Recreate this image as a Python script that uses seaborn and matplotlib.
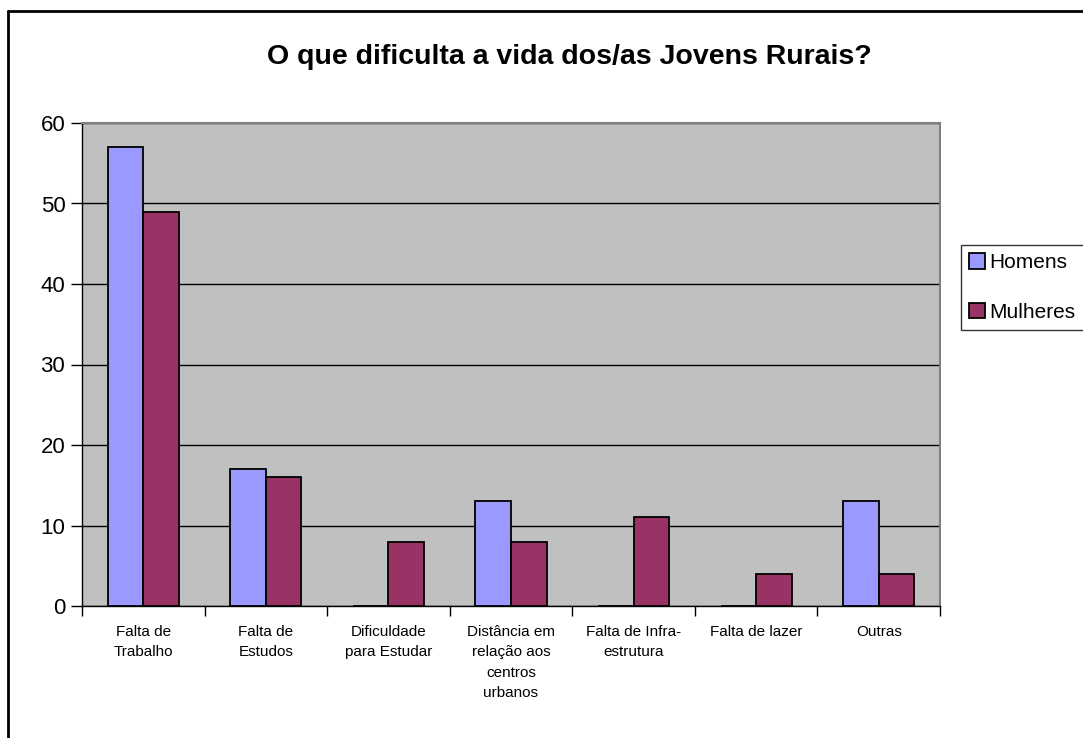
import seaborn as sns
import pandas as pd
import matplotlib.pyplot as plt
from matplotlib.lines import Line2D

# dados
categorias = ['Falta de\nTrabalho', 'Falta de\nEstudos', 'Dificuldade\npara Estudar',
              'Distância em\nrelação aos\ncentros\nurbanos', 'Falta de Infra-\nestrutura',
              'Falta de lazer', 'Outras']
homens = [57, 17, 0, 13, 0, 0, 13]
mulheres = [49, 16, 8, 8, 11, 4, 4]
series = ['Homens', 'Mulheres']
cores = ['#9999FF', '#993366']

df = pd.DataFrame({
    'categoria': categorias * 2,
    'valor': homens + mulheres,
    'grupo': [series[0]] * len(categorias) + [series[1]] * len(categorias),
})

sns.set_style('white')
plt.rcParams['font.family'] = ['Liberation Sans', 'DejaVu Sans']
plt.rcParams['text.color'] = 'black'
plt.rcParams['xtick.color'] = 'black'
plt.rcParams['ytick.color'] = 'black'

fig = plt.figure(figsize=(10.83, 7.38), dpi=100)
ax = fig.add_axes([82 / 1083, 1 - 606 / 738, 858 / 1083, 483 / 738])
ax.set_facecolor('#C0C0C0')

sns.barplot(data=df, x='categoria', y='valor', hue='grupo', palette=cores, saturation=1,
            width=0.58, edgecolor='black', linewidth=1.3, ax=ax, zorder=3)

ax.set_ylim(0, 60)
ax.set_xlim(-0.5, len(categorias) - 0.5)
ax.set_yticks(range(0, 61, 10))
ax.yaxis.grid(True, color='black', linewidth=1, zorder=1)
ax.set_axisbelow(True)
ax.tick_params(axis='y', labelsize=16, length=8, width=1, direction='out', left=True, pad=4)
ax.tick_params(axis='x', which='major', labelsize=11, length=0, pad=14)
ax.set_xticks(range(len(categorias)))
ax.set_xticklabels(categorias, linespacing=1.55)
ax.set_xticks([i - 0.5 for i in range(len(categorias) + 1)], minor=True)
ax.tick_params(axis='x', which='minor', length=7, width=1, bottom=True, direction='out')
ax.set_xlabel('')
ax.set_ylabel('')

for lado in ['top', 'right']:
    ax.spines[lado].set_color('#808080')
    ax.spines[lado].set_linewidth(1.5)
for lado in ['left', 'bottom']:
    ax.spines[lado].set_color('black')
    ax.spines[lado].set_linewidth(1)

fig.text(569 / 1083, 1 - 57 / 738,
         'O que dificulta a vida dos/as Jovens Rurais?',
         ha='center', va='center', fontsize=20.5, fontweight='bold')

ax.legend_.remove()
handles = [plt.Rectangle((0, 0), 1, 1, facecolor=c, edgecolor='black', linewidth=1.3) for c in cores]
leg = fig.legend(handles, series, loc='upper left', bbox_to_anchor=(961 / 1083, 1 - 245 / 738),
                 fontsize=15, frameon=True, fancybox=False, edgecolor='black',
                 handlelength=0.75, handleheight=0.75, handletextpad=0.2,
                 labelspacing=1.45, borderpad=0.4, borderaxespad=0)
leg.get_frame().set_linewidth(1)

# moldura externa (somente topo e esquerda visíveis)
fig.add_artist(Line2D([8 / 1083, 1], [1 - 11 / 738, 1 - 11 / 738], color='black', linewidth=2))
fig.add_artist(Line2D([8 / 1083, 8 / 1083], [0, 1 - 11 / 738], color='black', linewidth=2))

plt.savefig('out.png', dpi=100)
